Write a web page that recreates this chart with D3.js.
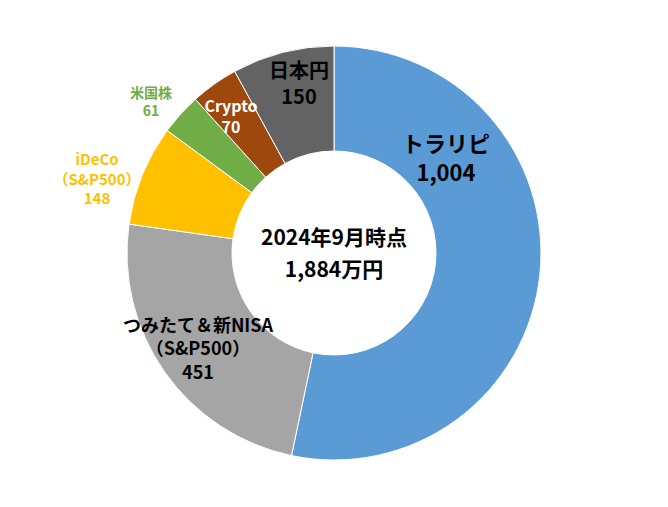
<!DOCTYPE html>
<html lang="ja">
<head>
<meta charset="UTF-8">
<script src="https://d3js.org/d3.v7.min.js"></script>
<style>
  body { margin: 0; background: #fff; }
  text { font-family: "Noto Sans CJK JP", "Noto Sans", sans-serif; font-weight: bold; }
</style>
</head>
<body>
<div id="chart"></div>
<script>
// Data
const categories = ["トラリピ", "つみたて＆新NISA|（S&P500）", "iDeCo|（S&P500）", "米国株", "Crypto", "日本円"];
const values = [1004, 451, 148, 61, 70, 150];
const colors = ["#5B9BD5", "#A5A5A5", "#FFC000", "#70AD47", "#9E480E", "#636363"];
const labelColors = ["#000", "#000", "#FFC000", "#70AD47", "#fff", "#000"];
// label placement: [x, y, font size]
const labelPos = [[446, 152, 22], [198, 332, 18], [97, 165, 15], [151, 98, 14], [231, 112, 16], [299, 78, 20]];

const width = 668, height = 507;
const cx = 334, cy = 253, outerR = 207, innerR = 102;

const svg = d3.select("#chart").append("svg")
    .attr("width", width).attr("height", height);

const g = svg.append("g").attr("transform", `translate(${cx},${cy})`);

const pie = d3.pie().sort(null).value(d => d);
const arc = d3.arc().innerRadius(innerR).outerRadius(outerR);

g.selectAll("path")
    .data(pie(values))
    .join("path")
    .attr("d", arc)
    .attr("fill", (d, i) => colors[i])
    .attr("stroke", "#fff")
    .attr("stroke-width", 1);

// labels
const fmt = d3.format(",");
categories.forEach((c, i) => {
    const [x, y, fs] = labelPos[i];
    const lines = c.split("|").concat([fmt(values[i])]);
    const t = svg.append("text")
        .attr("text-anchor", "middle")
        .attr("fill", labelColors[i])
        .attr("font-size", fs);
    lines.forEach((l, j) => {
        t.append("tspan").attr("x", x).attr("y", y + j * fs * 1.3).text(l);
    });
});

// center text
const total = d3.sum(values);
const ct = svg.append("text").attr("text-anchor", "middle").attr("font-size", 21).attr("fill", "#000");
ct.append("tspan").attr("x", cx).attr("y", cy - 8).text("2024年9月時点");
ct.append("tspan").attr("x", cx).attr("y", cy + 24).text(fmt(total) + "万円");
</script>
</body>
</html>
